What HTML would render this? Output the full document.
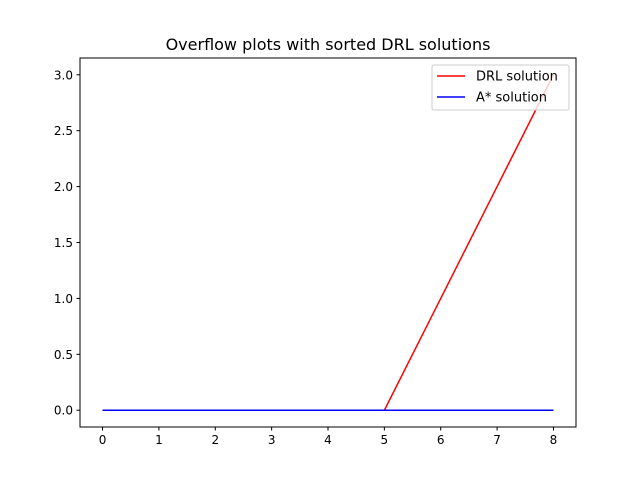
<!DOCTYPE html>
<html><head><meta charset="utf-8"><style>
body{margin:0;background:#fff;}
svg text{font-family:"DejaVu Sans","Liberation Sans",sans-serif;}
</style></head><body>
<svg width="640" height="480" xmlns="http://www.w3.org/2000/svg">
<rect width="640" height="480" fill="#fff"/>
<text x="328" y="50" font-size="16" text-anchor="middle">Overflow plots with sorted DRL solutions</text>
<g id="ticks"></g>
<g id="lines"></g>
<rect x="80" y="58" width="496" height="369" fill="none" stroke="#000" stroke-width="1"/>
<g>
<rect x="432" y="65" width="137" height="45" rx="2" fill="#fff" fill-opacity="0.8" stroke="#ccc"/>
<line x1="437" y1="76" x2="465" y2="76" stroke="red" stroke-width="1.5"/>
<text x="476" y="80.5" font-size="13">DRL solution</text>
<line x1="437" y1="97" x2="465" y2="97" stroke="blue" stroke-width="1.5"/>
<text x="476" y="101.5" font-size="13">A* solution</text>
</g>
</svg>
<script>
const xValues=[0,1,2,3,4,5,6,7,8];
const drlValues=[0,0,0,0,0,0,1,2,3];
const astarValues=[0,0,0,0,0,0,0,0,0];
const xTicks=[0,1,2,3,4,5,6,7,8];
const yTicks=[0.0,0.5,1.0,1.5,2.0,2.5,3.0];
const NS="http://www.w3.org/2000/svg";
const L=80,R=576,T=58,B=427;
const xmin=-0.4,xmax=8.4,ymin=-0.15,ymax=3.15;
const sx=v=>L+(v-xmin)/(xmax-xmin)*(R-L);
const sy=v=>B-(v-ymin)/(ymax-ymin)*(B-T);
const tg=document.getElementById('ticks');
function mk(tag,attrs,parent){const e=document.createElementNS(NS,tag);for(const k in attrs)e.setAttribute(k,attrs[k]);parent.appendChild(e);return e;}
xTicks.forEach(t=>{
 const l=mk('line',{x1:sx(t),x2:sx(t),y1:B,y2:B+3.5,stroke:'#000'},tg);
 
 
 const tx=mk('text',{x:sx(t),y:B+17,'font-size':12,'text-anchor':'middle'},tg);
 tx.textContent=t;
 
 
});
yTicks.forEach(t=>{
 const l=mk('line',{x1:L-3.5,x2:L,y1:sy(t),y2:sy(t),stroke:'#000'},tg);
 
 
 const tx=mk('text',{x:L-7,y:sy(t)+4.5,'font-size':12,'text-anchor':'end'},tg);
 tx.textContent=t.toFixed(1);
 
 
});
const lg=document.getElementById('lines');
function series(vals,color,name){
 const p=mk('polyline',{points:vals.map((v,i)=>sx(xValues[i])+','+sy(v)).join(' '),fill:'none',stroke:color,'stroke-width':1.5},lg);
 
 
}
series(drlValues,'red','drl-line');
series(astarValues,'blue','astar-line');
</script>
</body></html>
